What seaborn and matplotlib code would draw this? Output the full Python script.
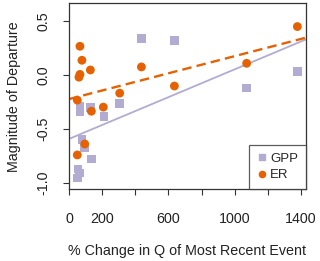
import numpy as np
import pandas as pd
import matplotlib
matplotlib.use('Agg')
import matplotlib.pyplot as plt
import seaborn as sns

# % change in Q and magnitude of departure
gpp_x = [437, 636, 1378, 1072, 306, 211, 131, 66, 66, 78, 95, 135, 54, 64, 50]
gpp_y = [0.339, 0.317, 0.034, -0.121, -0.267, -0.385, -0.304, -0.292, -0.339,
         -0.602, -0.671, -0.779, -0.872, -0.910, -0.956]
er_x = [66, 78, 66, 60, 129, 50, 135, 207, 306, 437, 636, 1072, 1378, 95, 50]
er_y = [0.267, 0.137, 0.006, -0.020, 0.047, -0.233, -0.336, -0.298, -0.168,
        0.075, -0.102, 0.109, 0.450, -0.640, -0.742]

x_ticks = [0, 200, 400, 600, 800, 1000, 1200, 1400]
x_labels = ['0', '200', '', '600', '', '1000', '', '1400']
y_ticks = [-1.0, -0.5, 0.0, 0.5]
y_labels = ['-1.0', '-0.5', '0.0', '0.5']

df = pd.DataFrame({
    'q': gpp_x + er_x,
    'dep': gpp_y + er_y,
    'flux': ['GPP'] * len(gpp_x) + ['ER'] * len(er_x),
})

sns.set_style('white')
plt.rcParams['font.family'] = ['Liberation Sans', 'DejaVu Sans']

colors = {'GPP': '#b2abd2', 'ER': '#e66101'}

fig = plt.figure(figsize=(3.2, 2.61), dpi=100)
ax = fig.add_axes([0.2156, 0.275, 0.7406, 0.712])

ax.set_xlim(0, 1430)
ax.set_ylim(-1.06, 0.665)

# regression lines across the full panel
for flux, ls, lw in [('GPP', '-', 1.3), ('ER', (0, (4, 2.2)), 1.7)]:
    d = df[df.flux == flux]
    slope, icpt = np.polyfit(d.q, d.dep, 1)
    ax.axline((0, icpt), slope=slope, color=colors[flux], ls=ls, lw=lw, zorder=1)

sns.scatterplot(data=df, x='q', y='dep', hue='flux', style='flux',
                markers={'GPP': 's', 'ER': 'o'}, palette=colors,
                s=40, linewidth=0, ax=ax, zorder=3, legend=False)

ax.set_xticks(x_ticks)
ax.set_xticklabels(x_labels)
ax.set_yticks(y_ticks)
ax.set_yticklabels(y_labels, rotation=90, va='center')
ax.tick_params(axis='both', direction='out', length=4.5, width=0.8,
               color='#333333', labelsize=10.3, labelcolor='#222222')
ax.tick_params(axis='x', pad=12)
ax.tick_params(axis='y', pad=9)
ax.xaxis.set_ticks_position('bottom')
ax.yaxis.set_ticks_position('left')
for sp in ax.spines.values():
    sp.set_color('#333333')
    sp.set_linewidth(0.9)

ax.set_xlabel('% Change in Q of Most Recent Event', fontsize=10.3,
              color='#222222', labelpad=13)
ax.set_ylabel('Magnitude of Departure', fontsize=10.3, color='#222222',
              labelpad=11)

handles = [
    plt.Line2D([], [], marker='s', ls='', color=colors['GPP'], markersize=4),
    plt.Line2D([], [], marker='o', ls='', color=colors['ER'], markersize=4.5),
]
leg = ax.legend(handles, ['GPP', 'ER'], loc='lower right', fontsize=9.5,
                frameon=True, fancybox=False, borderaxespad=0,
                handletextpad=0.2, handlelength=0.8, borderpad=0.6,
                labelspacing=0.3)
leg.get_frame().set_edgecolor('#333333')
leg.get_frame().set_linewidth(0.9)

fig.savefig('out.png', dpi=100)
